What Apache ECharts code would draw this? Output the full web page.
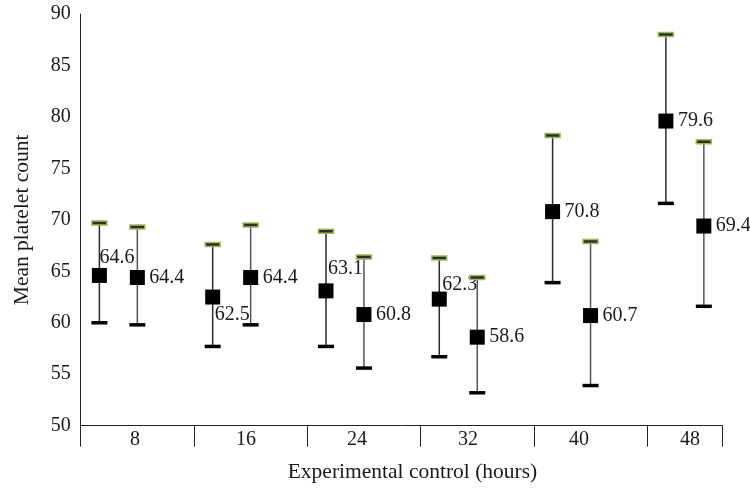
<!DOCTYPE html>
<html><head><meta charset="utf-8">
<script src="https://cdn.jsdelivr.net/npm/echarts@6/dist/echarts.min.js"></script>
<style>html,body{margin:0;padding:0;background:#fff}#c{width:750px;height:488px}</style>
</head><body><div id="c"></div>
<script>
const categories = ['8','16','24','32','40','48'];
const expMean = [64.6, 62.5, 63.1, 62.3, 70.8, 79.6];
const expHigh = [69.7, 67.6, 68.9, 66.3, 78.2, 88.0];
const expLow  = [60.0, 57.7, 57.7, 56.7, 63.9, 71.6];
const ctlMean = [64.4, 64.4, 60.8, 58.6, 60.7, 69.4];
const ctlHigh = [69.3, 69.5, 66.4, 64.4, 67.9, 77.6];
const ctlLow  = [59.8, 59.8, 55.6, 53.2, 53.9, 61.6];
const yTicks = [50, 55, 60, 65, 70, 75, 80, 85, 90];

const FONT = '"Liberation Serif", "Times New Roman", serif';
// label offsets (px) relative to the marker centre
const expLabelOffsets = [[0, -18], [2, 18], [2, -22], [3, -14], [12, 0], [12, 0]];
const ctlLabelOffsets = [[12, 0], [12, 0], [12, 0], [12, 0], [12, 0], [12, 0]];

function makeRender(bandOffset, lineColor, labelOffsets) {
  return function (params, api) {
    const i = api.value(0);
    const x = i + 0.5 + bandOffset;
    const c = api.coord([x, api.value(1)]);
    const lo = api.coord([x, api.value(2)]);
    const hi = api.coord([x, api.value(3)]);
    const off = labelOffsets[i];
    return {
      type: 'group',
      children: [
        { type: 'line', shape: { x1: c[0], y1: hi[1], x2: c[0], y2: lo[1] },
          style: { stroke: lineColor, lineWidth: 1.5 } },
        { type: 'rect', shape: { x: c[0] - 7.5, y: hi[1] - 2, width: 15, height: 4 },
          style: { fill: '#2e2e2e', stroke: '#9bbb59', lineWidth: 1.5 } },
        { type: 'rect', shape: { x: c[0] - 8, y: lo[1] - 1.75, width: 16, height: 3.5 },
          style: { fill: '#000' } },
        { type: 'rect', shape: { x: c[0] - 7.5, y: c[1] - 7.5, width: 15, height: 15 },
          style: { fill: '#000' } },
        { type: 'text', x: c[0] + off[0], y: c[1] + off[1],
          style: { text: api.value(1).toFixed(1), fontSize: 20, fontFamily: FONT,
                   fill: '#1a1a1a', align: 'left', verticalAlign: 'middle' } }
      ]
    };
  };
}

const chart = echarts.init(document.getElementById('c'));
const gridTop = 14, gridHeight = 411.7;
chart.setOption({
  backgroundColor: '#fff',
  animation: false,
  grid: [
    { left: 79.5, top: gridTop, width: 666, height: gridHeight },
    { left: 80.7, top: gridTop, width: 641.6, height: gridHeight }
  ],
  xAxis: [
    { type: 'category', gridIndex: 0, data: categories, boundaryGap: true,
      axisLine: { show: false }, axisTick: { show: false },
      axisLabel: { fontSize: 20, fontFamily: FONT, color: '#1a1a1a', margin: 7 },
      name: 'Experimental control (hours)', nameLocation: 'middle', nameGap: 38,
      nameTextStyle: { fontSize: 21.5, fontFamily: FONT, color: '#1a1a1a' } },
    { type: 'value', gridIndex: 1, min: 0, max: 5.663, interval: 1,
      axisLine: { show: true, lineStyle: { color: '#222', width: 1 } },
      axisTick: { show: true, length: 21, lineStyle: { color: '#222', width: 1 } },
      axisLabel: { show: false }, splitLine: { show: false } }
  ],
  yAxis: [
    { type: 'value', gridIndex: 0, min: yTicks[0], max: yTicks[yTicks.length - 1], interval: 5, show: false },
    { type: 'value', gridIndex: 1, min: yTicks[0], max: yTicks[yTicks.length - 1], interval: yTicks[1] - yTicks[0],
      axisLine: { show: true, lineStyle: { color: '#222', width: 1 } },
      axisTick: { show: false }, splitLine: { show: false },
      axisLabel: { fontSize: 20, fontFamily: FONT, color: '#1a1a1a', margin: 10 },
      name: 'Mean platelet count', nameLocation: 'middle', nameGap: 47,
      nameTextStyle: { fontSize: 21.5, fontFamily: FONT, color: '#1a1a1a' } }
  ],
  series: [
    { type: 'custom', name: 'Experimental', xAxisIndex: 1, yAxisIndex: 1, clip: false,
      encode: { x: 0, y: 1 },
      renderItem: makeRender(-0.335, '#2a2a2a', expLabelOffsets),
      data: categories.map((c, i) => [i, expMean[i], expLow[i], expHigh[i]]) },
    { type: 'custom', name: 'Control', xAxisIndex: 1, yAxisIndex: 1, clip: false,
      encode: { x: 0, y: 1 },
      renderItem: makeRender(0, '#555', ctlLabelOffsets),
      data: categories.map((c, i) => [i, ctlMean[i], ctlLow[i], ctlHigh[i]]) }
  ]
});
</script></body></html>
